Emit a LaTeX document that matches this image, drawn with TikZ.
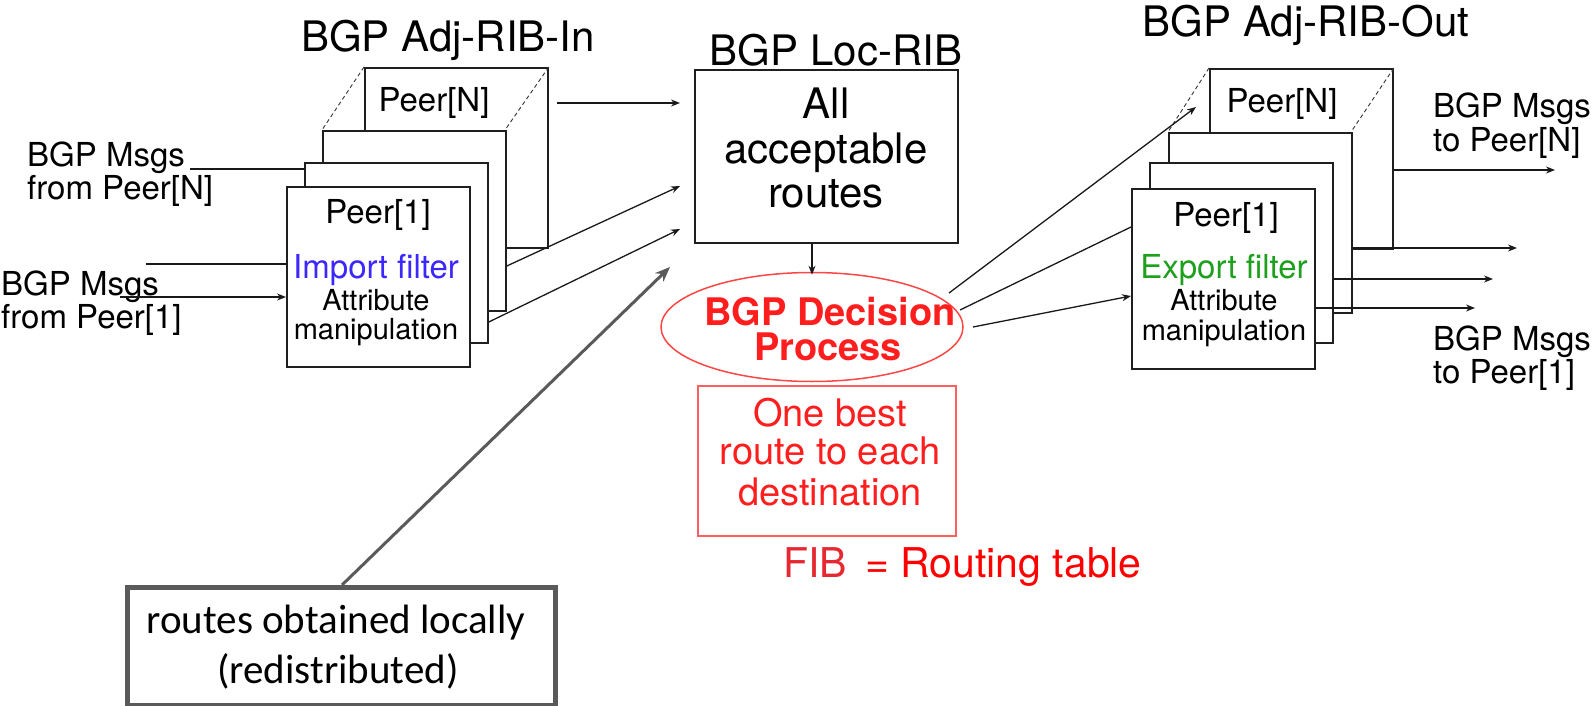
\documentclass[tikz,border=0pt]{standalone}
\usepackage{fontspec}
\setmainfont{TeX Gyre Heros}
\newfontfamily\calibri{Carlito}
\usetikzlibrary{arrows.meta,calc,shapes.geometric}
\definecolor{blu}{RGB}{60,40,255}
\definecolor{grn}{RGB}{30,160,30}
\definecolor{txtred}{RGB}{255,30,30}
\definecolor{ellred}{RGB}{255,70,70}
\definecolor{boxred}{RGB}{255,95,95}
\definecolor{fibred}{RGB}{230,40,50}
\definecolor{gry}{RGB}{90,90,90}
\begin{document}
\begin{tikzpicture}[x=1pt,y=-1pt,
  peerbox/.style={draw=black!88, fill=white, line width=1.8pt, minimum width=183pt, minimum height=180pt, anchor=north west, inner sep=0pt},
  dsh/.style={dash pattern=on 4pt off 3pt, line width=0.9pt, draw=black!80},
  base/.style={anchor=base, inner sep=0pt},
  peer/.style={base, font=\fontsize{33}{36}\selectfont},
  attr/.style={base, font=\fontsize{29}{32}\selectfont},
  msg/.style={anchor=base west, inner sep=0pt, font=\fontsize{33}{36}\selectfont},
  ttl/.style={base, font=\fontsize{42}{44}\selectfont},
  big/.style={base, font=\fontsize{42}{44}\selectfont},
  redtxt/.style={base, text=txtred, font=\fontsize{38}{40}\selectfont},
  redbold/.style={base, text=txtred, font=\fontsize{38}{40}\selectfont\bfseries},
  arr/.style={line width=1.3pt, draw=black!90, -{Stealth[length=9pt,width=7pt]}},
  ln/.style={line width=1.3pt, draw=black!90},
]
\useasboundingbox (0,0) rectangle (1596,706);

% ---------- titles ----------
\node[ttl] (tin) at (448,52) {BGP Adj-RIB-In};
\node[ttl] (tloc) at (836,66) {BGP Loc-RIB};
\node[ttl] (tout) at (1306,37) {BGP Adj-RIB-Out};

% ---------- left stack (Adj-RIB-In) ----------
\node[peerbox] (LN) at (364,67) {};
\draw[dsh] (LN.north west) -- (322,130) coordinate (L3nw);
\draw[dsh] (LN.north east) -- (505,130) coordinate (L3ne);
\node[peerbox] (L3) at (322,130) {};
\node[peerbox] (L2) at (304,162) {};
\node[peerbox] (L1) at (286,186) {};

\node[peer] (LNt) at (434,112) {Peer[N]};
\node[peer] (L1t) at (378,223) {Peer[1]};
\node[peer, text=blu] (Limp) at (376,278) {Import filter};
\node[attr] (Latt) at (376,310) {Attribute};
\node[attr] (Lman) at (376,339) {manipulation};

% left inputs
\node[msg] (mN1) at (27,167) {BGP Msgs};
\node[msg] (mN2) at (27,200) {from Peer[N]};
\node[msg] (m11) at (1,295) {BGP Msgs};
\node[msg] (m12) at (1,328) {from Peer[1]};
\coordinate (inN) at (190,169);
\coordinate (inM) at (146,264);
\coordinate (in1) at (120,297);
\draw[ln] (inN) -- (inN -| L2.west);
\draw[ln] (inM) -- (inM -| L1.west);
\draw[arr] (in1) -- (in1 -| L1.west);

% ---------- Loc-RIB ----------
\node[draw=black!88, line width=1.8pt, minimum width=263pt, minimum height=173pt, anchor=north west, inner sep=0pt] (LR) at (694,69) {};
\node[big] (t1) at (826,119) {All};
\node[big] (t2) at (826,164) {acceptable};
\node[big] (t3) at (826,207) {routes};

\coordinate (e1) at (680,103);
\coordinate (e2) at (680,186);
\coordinate (e3) at (680,229);
\draw[arr] ($(LN.east |- e1)+(8,0)$) -- (e1);
\draw[arr] (L3.east |- 0,266) -- (e2);
\draw[arr] (L2.east |- 0,322) -- (e3);

% ---------- decision process ----------
\node[draw=ellred, ellipse, line width=1.5pt, minimum width=302pt, minimum height=109pt, inner sep=0pt] (DP) at (812,327) {};
\node[redbold] (d1) at (830,325) {BGP Decision};
\node[redbold] (d2) at (828,360) {Process};
\draw[arr] (LR.south -| DP.north) -- ($(DP.north)+(0,3)$);

\node[draw=boxred, line width=1.5pt, minimum width=258pt, minimum height=150pt, anchor=north west, inner sep=0pt] (FB) at (697,385) {};
\node[redtxt] (f1) at (830,426) {One best};
\node[redtxt] (f2) at (830,464) {route to each};
\node[redtxt] (f3) at (830,505) {destination};

\node[anchor=base west, inner sep=0pt, text=fibred, font=\fontsize{41}{44}\selectfont] (fib) at (783,577) {FIB};
\node[anchor=base west, inner sep=0pt, text=red, font=\fontsize{41}{44}\selectfont] (rt) at (865,577) {= Routing table};

% ---------- right stack (Adj-RIB-Out) ----------
\node[peerbox] (RN) at (1209,68) {};
\draw[dsh] (RN.north west) -- (1168,132);
\draw[dsh] (RN.north east) -- (1351,132);
\node[peerbox] (R3) at (1168,132) {};
\node[peerbox] (R2) at (1149,162) {};
\node[peerbox] (R1) at (1131,188) {};

\node[peer] (RNt) at (1282,113) {Peer[N]};
\node[peer] (R1t) at (1226,226) {Peer[1]};
\node[peer, text=grn] (Rexp) at (1224,278) {Export filter};
\node[attr] (Ratt) at (1224,310) {Attribute};
\node[attr] (Rman) at (1224,340) {manipulation};

% from decision process to Adj-RIB-Out
\coordinate (p1) at (949,293);
\coordinate (p2) at (960,310);
\coordinate (p3) at (973,327);
\coordinate (q1) at (1196,107);
\draw[arr] (p1) -- (q1);
\draw[ln] (p2) -- (R1.west |- 0,227);
\draw[arr] (p3) -- (R1.west |- 0,296);

% outputs
\coordinate (o1) at (1555,170);
\coordinate (o2) at (1517,248);
\coordinate (o3) at (1493,279);
\coordinate (o4) at (1475,308);
\draw[arr] (RN.east |- o1) -- (o1);
\draw[arr] (R3.east |- o2) -- (o2);
\draw[arr] (R2.east |- o3) -- (o3);
\draw[arr] (R1.east |- o4) -- (o4);

\node[msg] (oN1) at (1433,118) {BGP Msgs};
\node[msg] (oN2) at (1433,152) {to Peer[N]};
\node[msg] (o11) at (1433,350) {BGP Msgs};
\node[msg] (o12) at (1433,383) {to Peer[1]};

% ---------- local routes ----------
\node[draw=gry, line width=5pt, fill=white, minimum width=428pt, minimum height=118pt, anchor=north west, inner sep=0pt] (LOC) at (125,585) {};
\node[base, font=\calibri\fontsize{41}{44}\selectfont] (lo1) at (336,633) {routes obtained locally};
\node[base, font=\calibri\fontsize{41}{44}\selectfont] (lo2) at (338,683) {(redistributed)};
\draw[draw=gry, line width=3pt, -{Stealth[length=15pt,width=12pt]}] (LOC.north -| 342,0) -- (670,267);
\end{tikzpicture}
\end{document}
